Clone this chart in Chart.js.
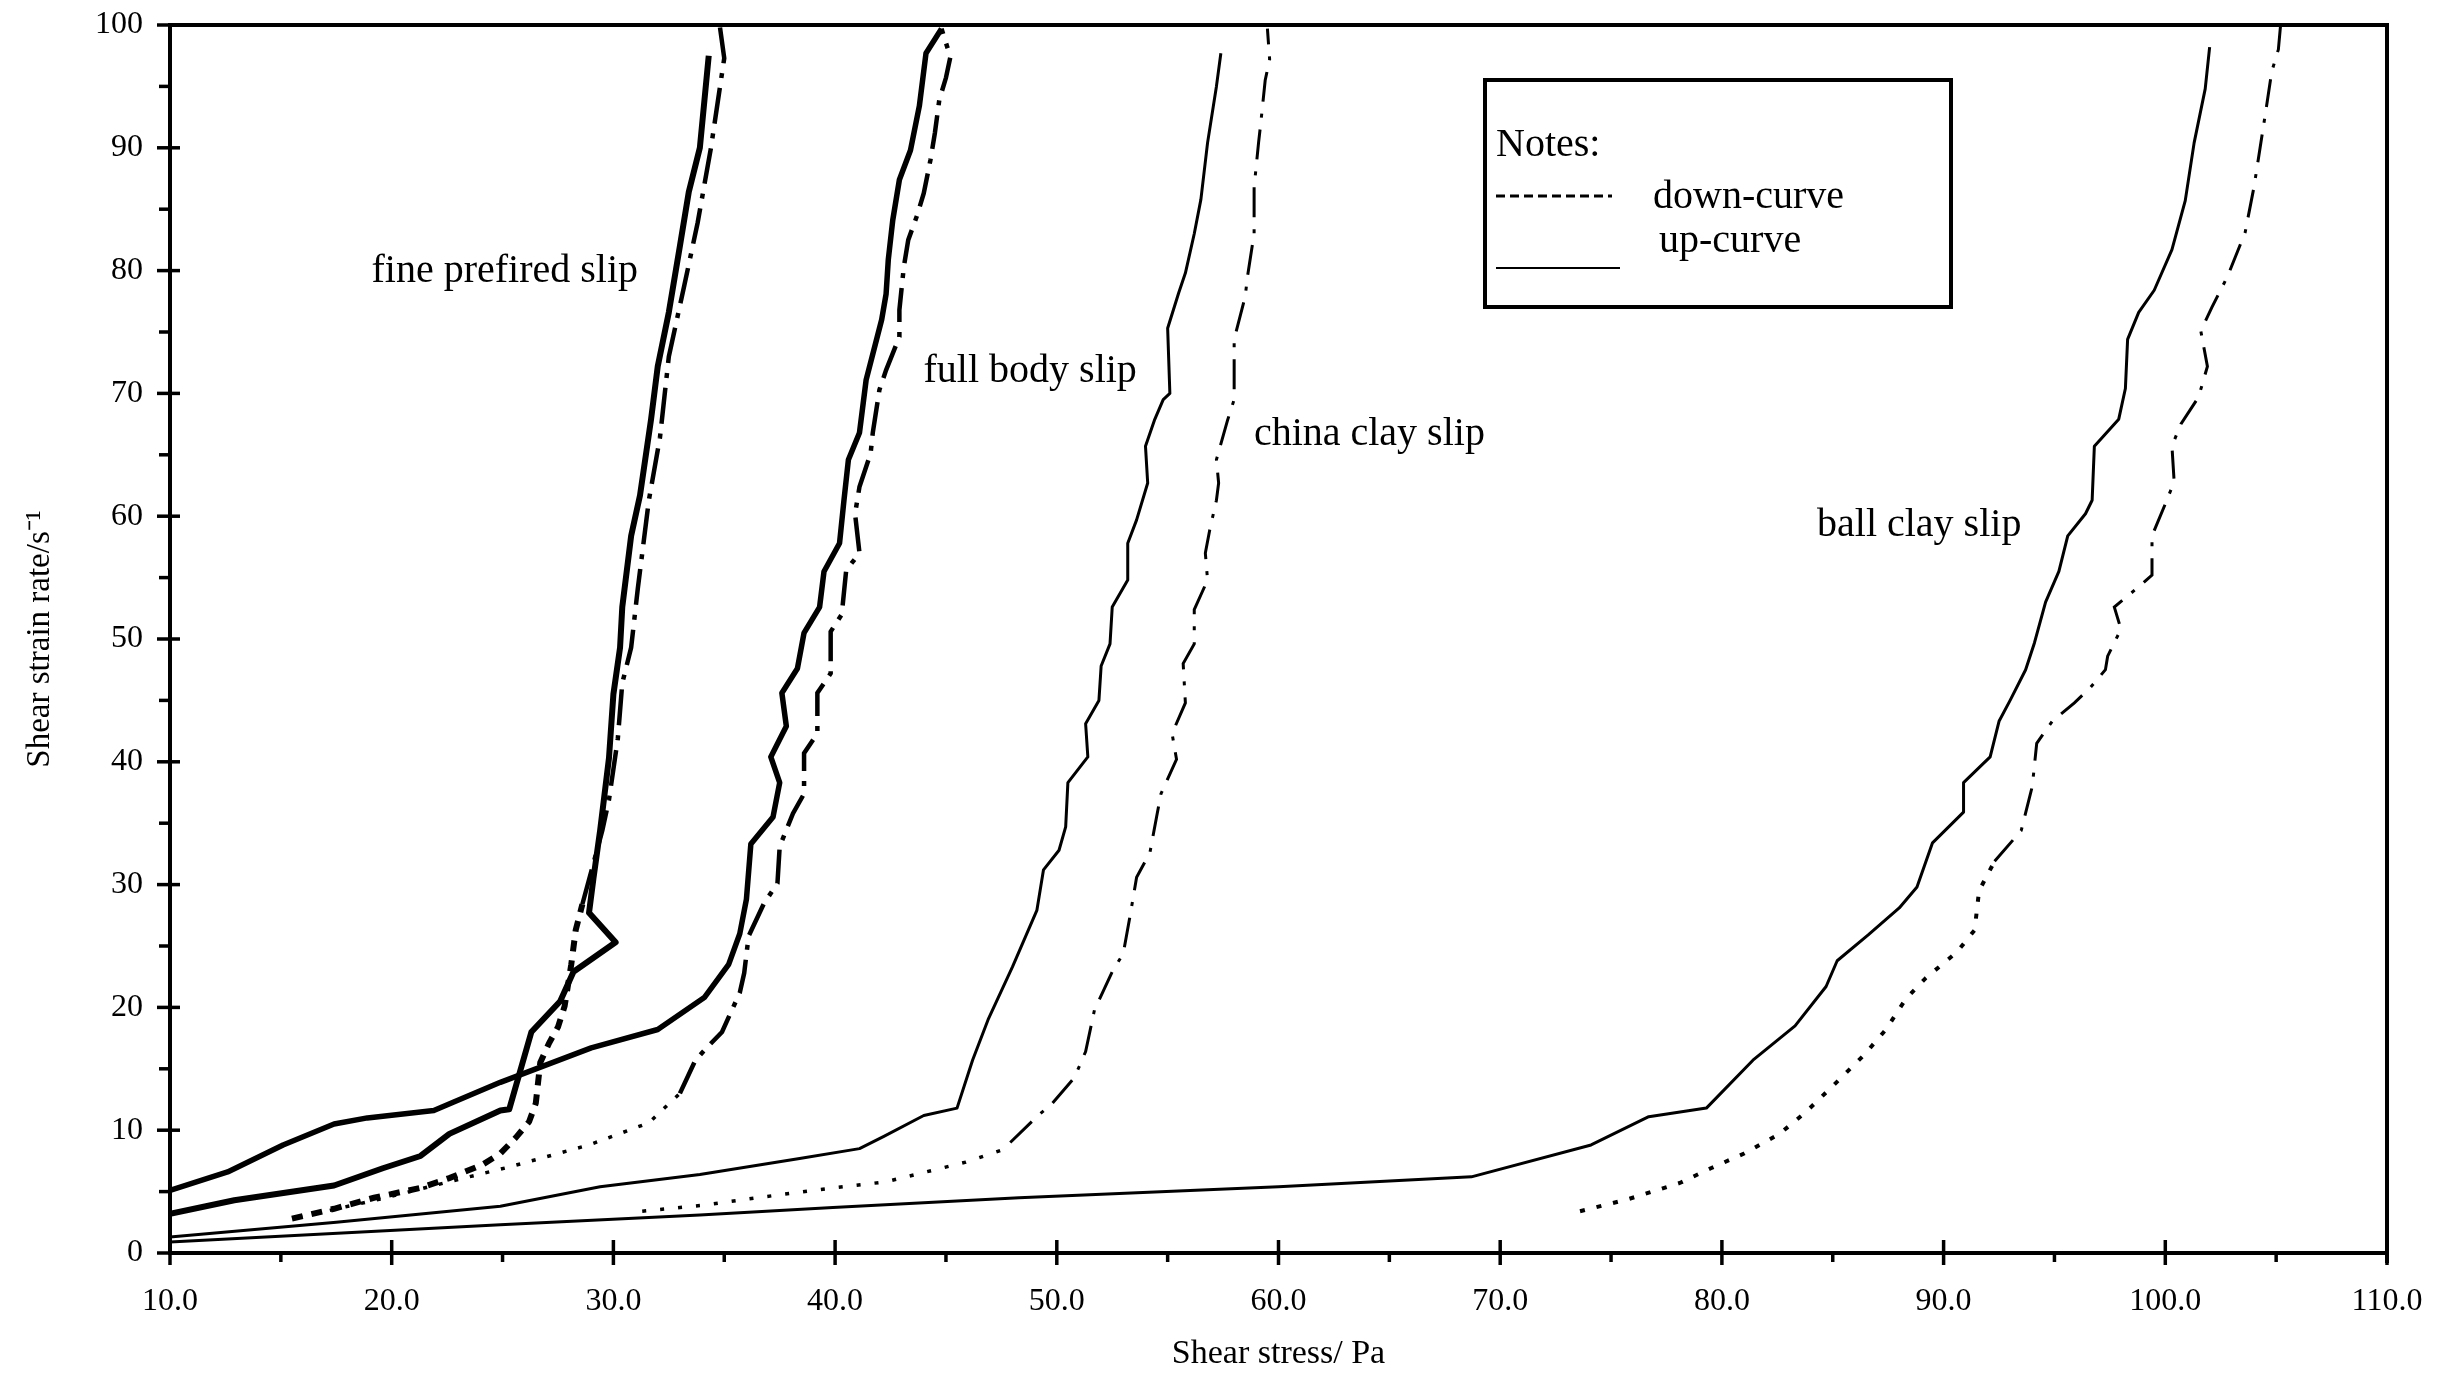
<!DOCTYPE html>
<html>
<head>
<meta charset="utf-8">
<script src="https://cdn.jsdelivr.net/npm/chart.js@4/dist/chart.umd.min.js"></script>
<style>
  html, body { margin: 0; padding: 0; background: #ffffff; }
  #wrap { width: 2443px; height: 1380px; position: relative; background: #ffffff; }
</style>
</head>
<body>
<div id="wrap"><canvas id="c"></canvas></div>
<script>
// ---- data: [shear stress (Pa), shear strain rate (1/s)] ----
const finePrefiredUp = [[10,3.2],[12.9,4.3],[17.4,5.5],[19.6,6.9],[21.3,7.9],[22.6,9.7],[24.9,11.6],[25.3,11.7],[26.3,18.0],[27.6,20.5],[28.2,22.9],[30.1,25.3],[28.9,27.7],[29.1,30.5],[29.4,34.4],[29.8,40.3],[30.0,45.5],[30.3,49.3],[30.4,52.6],[30.8,58.4],[31.2,61.7],[31.7,67.9],[32.0,72.2],[32.5,76.6],[33.0,82.0],[33.4,86.4],[33.9,90.0],[34.3,97.5]];
const finePrefiredDown = [[15.5,2.8],[17.4,3.6],[19.2,4.5],[21.3,5.3],[22.6,6.1],[24.1,7.2],[24.9,8.1],[25.6,9.4],[26.2,10.7],[26.5,12.2],[26.7,15.5],[27.1,17.1],[27.5,18.4],[27.8,20.1],[28.1,23.5],[28.3,26.3],[28.6,28.4],[29.5,34.4],[29.8,36.9],[30.2,41.9],[30.4,46.4],[30.8,49.3],[31.1,54.1],[31.6,61.3],[32.1,66.4],[32.5,73.0],[33.2,78.8],[33.8,83.9],[34.4,90.0],[35.0,97.3],[34.8,99.9]];
const fullBodyUp = [[10,5.1],[12.6,6.6],[15.1,8.8],[17.4,10.5],[18.9,11.0],[21.9,11.6],[22.8,12.3],[24.9,13.9],[29.0,16.7],[32.0,18.2],[34.1,20.8],[35.2,23.5],[35.7,26.0],[36.0,28.8],[36.2,33.3],[37.2,35.5],[37.5,38.3],[37.1,40.4],[37.8,42.9],[37.6,45.6],[38.3,47.6],[38.6,50.5],[39.3,52.6],[39.5,55.5],[40.2,57.8],[40.4,61.3],[40.6,64.6],[41.1,66.8],[41.4,71.1],[42.1,76.0],[42.3,78.1],[42.4,80.9],[42.6,84.1],[42.9,87.4],[43.4,89.8],[43.8,93.4],[44.1,97.7],[44.8,99.7]];
const fullBodyDown = [[15.8,2.9],[19.5,4.4],[22.8,5.9],[25.3,7.0],[27.1,7.9],[28.9,8.8],[30.7,10.0],[31.6,10.6],[32.3,11.8],[33.0,13.0],[33.7,15.7],[34.2,16.7],[34.9,18.0],[35.7,21.2],[35.9,22.8],[36.1,25.8],[36.8,28.5],[37.4,30.1],[37.5,33.1],[38.1,35.8],[38.6,37.4],[38.6,40.7],[39.2,42.3],[39.2,45.6],[39.8,47.2],[39.8,50.6],[40.3,52.0],[40.5,55.6],[41.1,57.0],[40.9,60.2],[41.1,62.4],[41.6,65.1],[41.7,66.8],[42.0,70.3],[42.3,71.9],[42.9,74.6],[42.9,76.8],[43.1,80.3],[43.3,82.5],[43.7,84.5],[44.0,86.3],[44.3,89.0],[44.5,91.2],[44.7,93.9],[45.0,95.7],[45.2,97.4],[44.8,99.7]];
const chinaClayUp = [[10,1.3],[17.5,2.5],[24.9,3.8],[29.4,5.4],[33.9,6.4],[38.4,7.7],[41.1,8.5],[42.2,9.5],[44.0,11.2],[45.5,11.8],[46.2,15.7],[46.9,19.0],[48.0,23.3],[49.1,27.9],[49.4,31.2],[50.1,32.8],[50.4,34.7],[50.5,38.3],[51.4,40.4],[51.3,43.1],[51.9,45.0],[52.0,47.8],[52.4,49.6],[52.5,52.6],[53.2,54.8],[53.2,57.8],[53.6,59.7],[54.1,62.7],[54.0,65.7],[54.4,67.8],[54.8,69.5],[55.1,70.0],[55.0,75.3],[55.5,78.2],[55.8,79.8],[56.2,83.0],[56.5,85.8],[56.8,90.4],[57.2,95.0],[57.4,97.7]];
const chinaClayDown = [[31.3,3.4],[34.1,3.9],[36.9,4.6],[39.9,5.3],[42.3,5.8],[44.1,6.6],[45.9,7.4],[47.7,8.5],[47.9,9.0],[49.1,11.1],[49.8,12.2],[50.8,14.3],[51.3,16.4],[51.7,19.8],[52.5,22.9],[53.0,24.4],[53.3,27.4],[53.6,30.6],[54.2,32.6],[54.5,35.5],[54.7,37.4],[55.4,40.2],[55.2,42.3],[55.8,44.8],[55.7,48.0],[56.2,49.6],[56.2,52.4],[56.8,54.8],[56.7,57.0],[56.9,58.9],[57.2,61.3],[57.3,62.7],[57.2,64.6],[57.7,67.8],[58.0,69.5],[58.0,73.0],[58.0,74.4],[58.5,77.9],[58.6,79.5],[58.9,83.0],[58.9,86.8],[59.1,90.4],[59.2,92.0],[59.4,95.5],[59.6,97.2],[59.5,99.7]];
const ballClayUp = [[10,0.9],[24.9,2.3],[33.9,3.1],[39.9,3.7],[48.3,4.5],[60.0,5.4],[68.7,6.2],[74.1,8.8],[76.7,11.1],[79.3,11.8],[81.4,15.7],[83.3,18.5],[84.7,21.7],[85.2,23.8],[86.6,25.9],[88.0,28.1],[88.8,29.8],[89.5,33.4],[90.9,35.9],[90.9,38.3],[92.1,40.4],[92.5,43.3],[93.0,45.0],[93.7,47.5],[94.1,49.7],[94.6,53.0],[95.2,55.5],[95.6,58.4],[96.4,60.2],[96.7,61.3],[96.8,65.7],[97.9,67.9],[98.2,70.4],[98.3,74.4],[98.8,76.6],[99.5,78.4],[100.3,81.7],[100.9,85.7],[101.3,90.4],[101.8,94.8],[102.0,98.2]];
const ballClayDown = [[73.6,3.4],[75.8,4.4],[78.1,5.7],[79.5,6.9],[81.0,8.1],[82.6,9.7],[83.8,11.5],[85.0,13.6],[86.4,16.1],[87.4,18.2],[88.3,20.7],[89.2,22.4],[90.6,24.5],[91.4,26.3],[91.6,29.5],[92.3,31.9],[93.5,34.4],[94.0,38.0],[94.2,41.5],[94.9,43.3],[95.9,44.8],[96.6,46.0],[97.3,47.5],[97.4,48.6],[98.0,50.8],[97.7,52.6],[98.9,54.4],[99.4,55.2],[99.4,58.4],[100.0,61.0],[100.4,62.8],[100.3,65.7],[100.7,67.5],[101.5,69.7],[101.9,72.2],[101.6,75.1],[102.1,77.0],[102.8,79.5],[103.6,83.1],[104.0,86.8],[104.5,92.6],[104.8,96.2],[105.1,98.0],[105.2,100]];

const curveLabelTexts = ['fine prefired slip', 'full body slip', 'china clay slip', 'ball clay slip'];
const curveLabelX = [25.1, 48.8, 64.1, 88.9];
const curveLabelY = [79.1, 70.9, 65.8, 58.4];

const xAxisTitle = 'Shear stress/ Pa';
const yAxisTitle = 'Shear strain rate/s\u207B\u00B9';
const legendTitle = 'Notes:';
const legendDownText = 'down-curve';
const legendUpText = 'up-curve';
const xMin = 10, xMax = 110, yMin = 0, yMax = 100, tickStep = 5;

// ---- helpers ----
const toPts = arr => arr.map(([x, y]) => ({ x, y }));
const byY = (threshold, low, high) => ctx => (ctx.p0.parsed.y < threshold ? low : high);
const SERIF = '"Liberation Serif", "Times New Roman", serif';

function solidSet(label, data, width) {
  return { label, data: toPts(data), showLine: true, borderColor: '#000', borderWidth: width,
           pointRadius: 0, pointHoverRadius: 0, tension: 0, fill: false, borderJoinStyle: 'round' };
}
function downSet(label, data, threshold, lowDash, lowWidth, highDash, highWidth) {
  return { label, data: toPts(data), showLine: true, borderColor: '#000', borderWidth: lowWidth,
           pointRadius: 0, pointHoverRadius: 0, tension: 0, fill: false,
           segment: { borderDash: byY(threshold, lowDash, highDash), borderWidth: byY(threshold, lowWidth, highWidth) } };
}

const decor = {
  id: 'decor',
  afterDraw(chart) {
    const { ctx, chartArea: a, scales: { x, y } } = chart;
    ctx.save();
    ctx.strokeStyle = '#000';
    ctx.fillStyle = '#000';
    ctx.lineCap = 'butt';
    // frame (top and right)
    ctx.lineWidth = 4;
    ctx.beginPath();
    ctx.moveTo(a.left - 2, a.top);
    ctx.lineTo(a.right, a.top);
    ctx.lineTo(a.right, a.bottom + 10);
    ctx.stroke();
    // tick marks
    ctx.lineWidth = 3.5;
    for (const t of x.ticks) {
      const px = x.getPixelForValue(t.value);
      const major = Math.abs(t.value % 10) < 1e-9;
      ctx.beginPath();
      ctx.moveTo(px, major ? a.bottom - 13 : a.bottom);
      ctx.lineTo(px, a.bottom + (major ? 12 : 9));
      ctx.stroke();
    }
    for (const t of y.ticks) {
      const py = y.getPixelForValue(t.value);
      const major = Math.abs(t.value % 10) < 1e-9;
      ctx.beginPath();
      ctx.moveTo(a.left - (major ? 13 : 11), py);
      ctx.lineTo(major ? a.left + 10 : a.left, py);
      ctx.stroke();
    }
    // curve labels
    ctx.font = '40px ' + SERIF;
    ctx.textAlign = 'center';
    ctx.textBaseline = 'alphabetic';
    curveLabelTexts.forEach((txt, i) => {
      ctx.fillText(txt, x.getPixelForValue(curveLabelX[i]), y.getPixelForValue(curveLabelY[i]));
    });
    // notes box
    const bx = 1485, by = 80, bw = 466, bh = 227;
    ctx.lineWidth = 4;
    ctx.strokeRect(bx, by, bw, bh);
    ctx.textAlign = 'left';
    ctx.font = '40px ' + SERIF;
    ctx.fillText(legendTitle, bx + 11, by + 76);
    ctx.fillText(legendDownText, bx + 168, by + 128);
    ctx.fillText(legendUpText, bx + 174, by + 172);
    ctx.lineWidth = 3;
    ctx.setLineDash([9, 5]);
    ctx.beginPath(); ctx.moveTo(bx + 11, by + 116); ctx.lineTo(bx + 127, by + 116); ctx.stroke();
    ctx.setLineDash([]);
    ctx.lineWidth = 2;
    ctx.beginPath(); ctx.moveTo(bx + 11, by + 188); ctx.lineTo(bx + 135, by + 188); ctx.stroke();
    ctx.restore();
  }
};

new Chart(document.getElementById('c'), {
  type: 'scatter',
  data: {
    datasets: [
      solidSet('fine prefired slip up-curve', finePrefiredUp, 6),
      downSet('fine prefired slip down-curve', finePrefiredDown, 27, [11, 9], 6, [36, 10, 5, 10], 4.5),
      solidSet('full body slip up-curve', fullBodyUp, 5.5),
      downSet('full body slip down-curve', fullBodyDown, 12, [4, 12], 3.5, [34, 10, 5, 10], 4.5),
      solidSet('china clay slip up-curve', chinaClayUp, 3),
      downSet('china clay slip down-curve', chinaClayDown, 9, [4, 14], 3.5, [30, 12, 4, 12], 3),
      solidSet('ball clay slip up-curve', ballClayUp, 3),
      downSet('ball clay slip down-curve', ballClayDown, 30, [5, 12], 4, [28, 12, 4, 12], 3)
    ]
  },
  options: {
    responsive: true,
    maintainAspectRatio: false,
    animation: false,
    devicePixelRatio: 1,
    layout: { padding: { top: 25, right: 56, left: 0, bottom: 0 } },
    plugins: { legend: { display: false }, tooltip: { enabled: false }, title: { display: false } },
    scales: {
      x: {
        type: 'linear', position: 'bottom', min: xMin, max: xMax,
        afterFit: s => { s.height = 127; s.paddingLeft = 0; s.paddingRight = 0; },
        grid: { display: false, drawTicks: false },
        border: { display: true, color: '#000', width: 4 },
        ticks: {
          stepSize: tickStep, autoSkip: false, maxRotation: 0, minRotation: 0, padding: 29,
          color: '#000', font: { family: SERIF, size: 32 },
          callback: v => (Math.abs(v % 10) < 1e-9 ? Number(v).toFixed(1) : '')
        },
        title: { display: true, text: xAxisTitle, color: '#000', font: { family: SERIF, size: 34 }, padding: { top: 0, bottom: 6 } }
      },
      y: {
        type: 'linear', position: 'left', min: yMin, max: yMax,
        afterFit: s => { s.width = 170; s.paddingTop = 0; s.paddingBottom = 0; },
        grid: { display: false, drawTicks: false },
        border: { display: true, color: '#000', width: 4 },
        ticks: {
          stepSize: tickStep, autoSkip: false, padding: 27,
          color: '#000', font: { family: SERIF, size: 32 },
          callback: v => (Math.abs(v % 10) < 1e-9 ? String(v) : '')
        },
        title: { display: true, text: yAxisTitle, color: '#000', font: { family: SERIF, size: 33 }, padding: { top: 21, bottom: 0 } }
      }
    }
  },
  plugins: [decor]
});
</script>
</body>
</html>
